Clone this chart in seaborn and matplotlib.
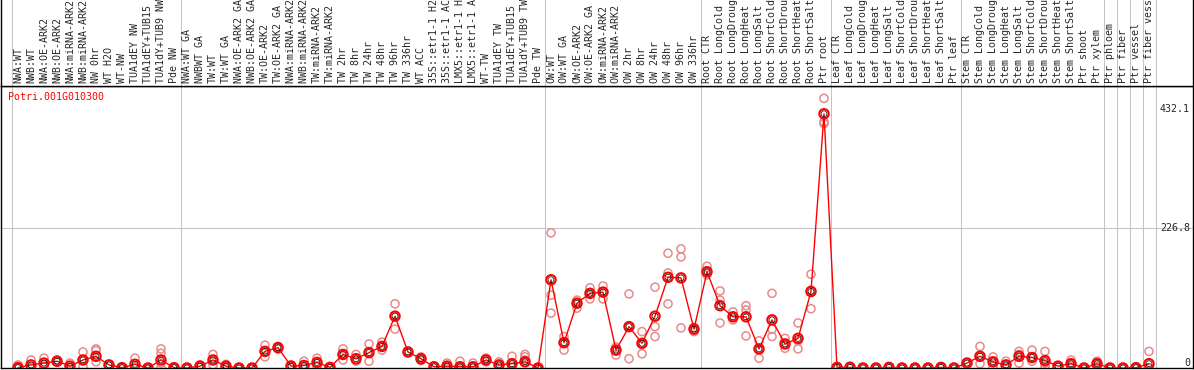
"""expression profile of one poplar gene across sample groups"""
import matplotlib

matplotlib.use("Agg")
import matplotlib.pyplot as plt
import matplotlib.transforms as mtransforms
import pandas as pd
import seaborn as sns

gene = "Potri.001G010300"

samples = [
    # nw
    "NWA:WT", "NWB:WT", "NWA:OE-ARK2", "NWB:OE-ARK2", "NWA:miRNA-ARK2",
    "NWB:miRNA-ARK2", "NW 0hr", "WT H2O", "WT-NW", "TUA1dEY NW",
    "TUA1dEY+TUB15 NW", "TUA1dY+TUB9 NW", "Pde NW",
    # tw
    "NWA:WT GA", "NWBWT GA", "TW:WT", "TW:WT GA", "NWA:OE-ARK2 GA",
    "NWB:OE-ARK2 GA", "TW:OE-ARK2", "TW:OE-ARK2 GA", "NWA:miRNA-ARK2 GA",
    "NWB:miRNA-ARK2 GA", "TW:miRNA-ARK2", "TW:miRNA-ARK2 GA", "TW 2hr",
    "TW 8hr", "TW 24hr", "TW 48hr", "TW 96hr", "TW 336hr", "WT ACC",
    "35S::etr1-1 H2O", "35S::etr1-1 ACC", "LMX5::etr1-1 H2O",
    "LMX5::etr1-1 ACC", "WT-TW", "TUA1dEY TW", "TUA1dEY+TUB15 TW",
    "TUA1dY+TUB9 TW", "Pde TW",
    # ow
    "OW:WT", "OW:WT GA", "OW:OE-ARK2", "OW:OE-ARK2 GA", "OW:miRNA-ARK2",
    "OW:miRNA-ARK2 GA", "OW 2hr", "OW 8hr", "OW 24hr", "OW 48hr", "OW 96hr",
    "OW 336hr",
    # root
    "Root CTR", "Root LongCold", "Root LongDrought", "Root LongHeat",
    "Root LongSalt", "Root ShortCold", "Root ShortDrought", "Root ShortHeat",
    "Root ShortSalt", "Ptr root",
    # leaf
    "Leaf CTR", "Leaf LongCold", "Leaf LongDrought", "Leaf LongHeat",
    "Leaf LongSalt", "Leaf ShortCold", "Leaf ShortDrought", "Leaf ShortHeat",
    "Leaf ShortSalt", "Ptr leaf",
    # stem
    "Stem CTR", "Stem LongCold", "Stem LongDrought", "Stem LongHeat",
    "Stem LongSalt", "Stem ShortCold", "Stem ShortDrought", "Stem ShortHeat",
    "Stem ShortSalt", "Ptr shoot", "Ptr xylem",
    # tissues
    "Ptr phloem", "Ptr fiber", "Ptr vessel", "Ptr fiber vessel",
]

group_sizes = [13, 28, 12, 10, 10, 11, 1, 1, 1, 1]

means = [
    0.5, 5, 8, 11, 3, 13, 19, 5, 0.5, 6, 0, 13, 0.5,
    0, 3, 13, 3, 0, 0, 27, 33, 3, 4, 9, 1, 22, 15, 25, 35, 84, 26, 15, 2,
    3, 2, 2, 13, 5, 7, 10, 0,
    143, 41, 105, 121, 123, 29, 67, 40, 84, 147, 146, 63,
    156, 101, 83, 83, 31, 78, 39, 48, 124, 412,
    1, 1, 0, 0, 1, 0, 0, 0, 1, 0,
    8, 19, 10, 5, 19, 17, 12, 3, 7, 0, 7,
    0, 0, 0.5, 7,
]

replicates = [
    [5, 0, 0], [13, 2, 0], [16, 6, 2], [13, 10, 10], [8, 1, 0],
    [26, 13, 2], [31, 28, 10], [5, 5, 5], [0, 0, 0], [16, 2, 0],
    [0, 0, 0], [31, 24, 8, 0], [1, 0, 0],
    [0, 0, 0], [5, 2, 1], [22, 13, 5], [6, 2, 0], [0, 0, 0], [0, 0, 0],
    [37, 26, 18], [35, 33, 31], [5, 3, 1], [11, 2, 0], [16, 8, 3],
    [1, 1, 0], [31, 22, 13], [22, 13, 11], [39, 25, 11], [42, 35, 29],
    [104, 84, 63], [27, 26, 25], [18, 15, 12], [2, 2, 1], [8, 2, 0],
    [11, 2, 0], [8, 2, 0], [16, 13, 10], [10, 5, 1], [19, 7, 2],
    [22, 18, 13], [0, 0, 0],
    [219, 118, 89], [51, 41, 29], [110, 105, 97], [130, 121, 112],
    [133, 123, 112], [34, 29, 21], [120, 67, 15], [59, 40, 23],
    [131, 67, 51], [186, 154, 104], [193, 180, 65], [66, 63, 59],
    [165, 156, 151], [125, 110, 73], [91, 83, 78], [101, 94, 52],
    [44, 31, 16], [121, 63, 51], [48, 39, 32], [73, 44, 31],
    [152, 126, 96], [437, 399, 396],
    [2, 1, 0], [3, 1, 0], [1, 0, 0], [1, 0, 0], [2, 1, 0], [1, 0, 0],
    [1, 0, 0], [1, 0, 0], [2, 1, 0], [1, 0, 0],
    [8, 8, 8], [35, 19, 7], [18, 10, 3], [11, 5, 1], [27, 22, 8],
    [29, 17, 11], [27, 8, 3], [3, 3, 2], [13, 7, 3], [0, 0, 0], [11, 7, 3],
    [0, 0, 0], [0, 0, 0], [1, 0, 0], [27, 0, 0],
]

yticks = [0, 226.8, 432.1]

sns.set_style("white")
plt.rcParams["font.family"] = ["DejaVu Sans Mono"]
plt.rcParams["font.size"] = 7.2

mean_df = pd.DataFrame({"pos": range(len(samples)), "mean": means})
rep_df = pd.DataFrame(
    [(i, v) for i, reps in enumerate(replicates) for v in reps],
    columns=["pos", "value"],
)

W, H = 1194, 370
fig = plt.figure(figsize=(W / 100, H / 100), dpi=100)
ax = fig.add_axes([1 / W, 2 / H, 1192 / W, 282 / H])
ax_top = fig.add_axes([1 / W, 284 / H, 1192 / W, 86 / H], sharex=ax)

grey = "#c4c4c4"
lw = 0.75

# group separators, through both panels
bounds = [-0.5]
for n in group_sizes:
    bounds.append(bounds[-1] + n)
for b in bounds:
    ax.axvline(b, color=grey, lw=lw, zorder=0)
    ax_top.axvline(b, color=grey, lw=lw, zorder=0)
ax.axhline(yticks[1], color=grey, lw=lw, zorder=0)

sns.scatterplot(
    data=rep_df, x="pos", y="value", ax=ax, s=34, marker="o",
    facecolor="none", edgecolor="#e98a8a", linewidth=1.1, zorder=2,
)
sns.lineplot(
    data=mean_df, x="pos", y="mean", ax=ax, color="red", lw=1.0, zorder=3,
)
sns.scatterplot(
    data=mean_df, x="pos", y="mean", ax=ax, s=46, marker="o",
    facecolor="none", edgecolor="red", linewidth=1.5, zorder=4,
)
sns.scatterplot(
    data=mean_df, x="pos", y="mean", ax=ax, s=18, marker="o",
    facecolor="none", edgecolor="black", linewidth=0.5, zorder=5,
)

ax.set_xlim((1 - 18) / 13, (1193 - 18) / 13)
ax.set_ylim(0, 282 / 0.617)
ax.set_xticks([])
ax.set_yticks([])
ax.set_xlabel("")
ax.set_ylabel("")
for s in ax.spines.values():
    s.set_color("black")
    s.set_linewidth(1.0)

ax.text(7 / 1192, 1 - 11 / 282, gene, color="red", transform=ax.transAxes,
        ha="left", va="center", fontsize=7.2)

trans = mtransforms.blended_transform_factory(ax.transAxes, ax.transData)
ax.text(0.9975, yticks[0], "0", transform=trans, ha="right", va="bottom")
ax.text(0.9975, yticks[1], f"{yticks[1]}", transform=trans, ha="right",
        va="center")
ax.text(0.9975, yticks[2] - 4, f"{yticks[2]}", transform=trans, ha="right",
        va="top")

# sample names, rotated, above the plot
ttrans = mtransforms.blended_transform_factory(ax_top.transData,
                                               ax_top.transAxes)
for i, name in enumerate(samples):
    ax_top.text(i, 0.035, name, rotation=90, ha="center", va="bottom",
                transform=ttrans, fontsize=7.2, clip_on=False)
ax_top.set_ylim(0, 1)
ax_top.set_xticks([])
ax_top.set_yticks([])
ax_top.spines["top"].set_visible(False)
for s in ["left", "right", "bottom"]:
    ax_top.spines[s].set_color("black")
    ax_top.spines[s].set_linewidth(1.0)

fig.savefig("out.png", dpi=100)
